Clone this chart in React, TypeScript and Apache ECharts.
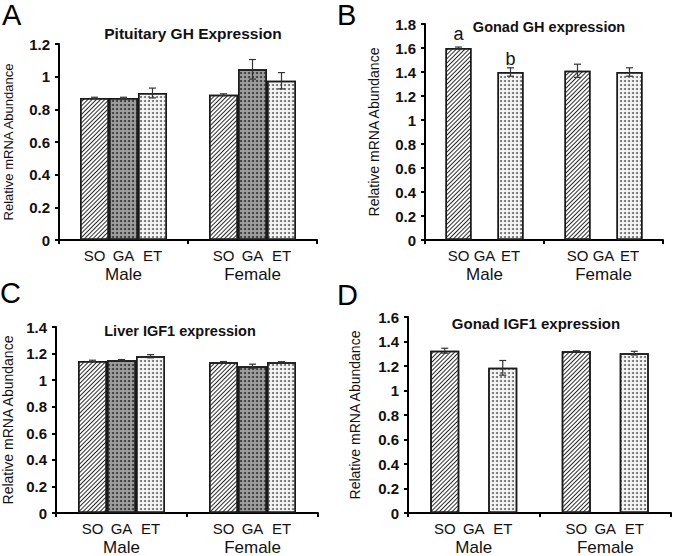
import React, { useEffect, useRef } from "react";
import * as echarts from "echarts";

const groups = ["Male", "Female"];
const subLabels = ["SO", "GA", "ET"];
const yTitle = "Relative mRNA Abundance";

// Panel A: Pituitary GH Expression
const aSO = [0.87, 0.89];
const aGA = [0.87, 1.045];
const aET = [0.9, 0.975];
const aSOErr = [0.004, 0.005];
const aGAErr = [0.004, 0.06];
const aETErr = [0.03, 0.05];

// Panel B: Gonad GH expression
const bSO = [1.6, 1.41];
const bET = [1.4, 1.4];
const bSOErr = [0.008, 0.055];
const bETErr = [0.035, 0.035];
const bLetters = ["a", "b"];

// Panel C: Liver IGF1 expression
const cSO = [1.145, 1.135];
const cGA = [1.15, 1.105];
const cET = [1.18, 1.135];
const cSOErr = [0.005, 0.005];
const cGAErr = [0.005, 0.015];
const cETErr = [0.012, 0.004];

// Panel D: Gonad IGF1 expression
const dSO = [1.325, 1.32];
const dET = [1.185, 1.305];
const dSOErr = [0.02, 0.005];
const dETErr = [0.06, 0.015];

const titles = ["Pituitary GH Expression", "Gonad GH expression", "Liver IGF1 expression", "Gonad IGF1 expression"];
const panelLetters = ["A", "B", "C", "D"];
const yMax = [1.2, 1.8, 1.4, 1.6];

const FONT = 'Arial, "Liberation Sans", Helvetica, sans-serif';

const grids = [
  { left: 59, top: 44, width: 258, height: 196 },
  { left: 425, top: 24, width: 238, height: 216 },
  { left: 55, top: 327, width: 263, height: 187 },
  { left: 408, top: 317, width: 263, height: 198 },
];
const barWidths = [29, 26, 29, 29];
const nameGaps = [44, 44, 41, 46];
const nameSizes = [13, 14, 14, 14];
const titlePos = [
  { x: 193, y: 25, size: 15.5 },
  { x: 549, y: 19, size: 14.5 },
  { x: 180, y: 323, size: 14.5 },
  { x: 536, y: 316, size: 15 },
];
const letterPos = [
  { x: 2, y: 0 },
  { x: 337, y: 0 },
  { x: 0, y: 278 },
  { x: 337, y: 280 },
];

const hatch = {
  symbol: "rect",
  symbolSize: 1,
  color: "#2a2a2a",
  dashArrayX: [1, 0],
  dashArrayY: [1, 2],
  rotation: -Math.PI / 4,
};
const darkDots = {
  symbol: "circle",
  symbolSize: 1,
  color: "#333",
  dashArrayX: [1.2, 1.3],
  dashArrayY: [1.2, 1.3],
  rotation: 0,
};
const lightDots = {
  symbol: "circle",
  symbolSize: 1,
  color: "#666",
  dashArrayX: [1.1, 1.6],
  dashArrayY: [1.1, 1.6],
  rotation: 0,
};

const styles = [
  { color: "#ffffff", decal: hatch },
  { color: "#9c9c9c", decal: darkDots },
  { color: "#f4f4f4", decal: lightDots },
];

export default function App() {
  const ref = useRef<HTMLDivElement>(null);
  useEffect(() => {
    if (!ref.current) return;
    const chart = echarts.init(ref.current, null, { renderer: "svg" });

    const panelSeries: (number | null)[][][] = [
      [aSO, aGA, aET],
      [bSO, [null, null], bET],
      [cSO, cGA, cET],
      [dSO, [null, null], dET],
    ];
    const panelErr: (number | null)[][][] = [
      [aSOErr, aGAErr, aETErr],
      [bSOErr, [null, null], bETErr],
      [cSOErr, cGAErr, cETErr],
      [dSOErr, [null, null], dETErr],
    ];

    const series: any[] = [];
    panelSeries.forEach((sArr, p) => {
      sArr.forEach((vals, s) => {
        const data = vals.map((v, i) => {
          if (v === null) return "-";
          if (p === 1 && s === 0 && i === 0) {
            return { value: v, label: { show: true, formatter: bLetters[0], distance: 5 } };
          }
          if (p === 1 && s === 2 && i === 0) {
            return { value: v, label: { show: true, formatter: bLetters[1], distance: 4 } };
          }
          return v;
        });
        series.push({
          type: "bar",
          name: subLabels[s],
          xAxisIndex: p,
          yAxisIndex: p,
          data,
          barWidth: barWidths[p],
          barGap: "0%",
          itemStyle: {
            color: styles[s].color,
            borderColor: "#1a1a1a",
            borderWidth: 1.5,
            decal: styles[s].decal,
          },
          label: {
            show: false,
            position: "top",
            fontSize: 18,
            fontFamily: FONT,
            color: "#111",
          },
          emphasis: { disabled: true },
        });
      });
      const errData: number[][] = [];
      sArr.forEach((vals, s) => {
        vals.forEach((v, i) => {
          const e = panelErr[p][s][i];
          if (v !== null && e !== null) errData.push([i, s, v, e]);
        });
      });
      const bw = barWidths[p];
      series.push({
        type: "custom",
        xAxisIndex: p,
        yAxisIndex: p,
        z: 5,
        data: errData,
        encode: { x: 0, y: 2 },
        renderItem: (params: any, api: any) => {
          const cat = api.value(0);
          const slot = api.value(1);
          const v = api.value(2);
          const e = api.value(3);
          const c = api.coord([cat, v]);
          const x = c[0] + (slot - 1) * bw;
          const hi = api.coord([cat, v + e])[1];
          const lo = api.coord([cat, v - e])[1];
          const st = { stroke: "#333", lineWidth: 1.2 };
          return {
            type: "group",
            children: [
              { type: "line", shape: { x1: x, y1: hi, x2: x, y2: lo }, style: st },
              { type: "line", shape: { x1: x - 3.5, y1: hi, x2: x + 3.5, y2: hi }, style: st },
              { type: "line", shape: { x1: x - 3.5, y1: lo, x2: x + 3.5, y2: lo }, style: st },
            ],
          };
        },
      });
    });

    const xAxis = grids.map((g, p) => ({
      type: "category",
      gridIndex: p,
      data: groups,
      axisLine: { lineStyle: { color: "#000", width: 2 } },
      axisTick: { show: true, length: 4, lineStyle: { color: "#000", width: 2 } },
      axisLabel: {
        interval: 0,
        hideOverlap: false,
        margin: 6,
        fontFamily: FONT,
        color: "#111",
        formatter: (v: string) => `{s|${subLabels[0]}}{s|${subLabels[1]}}{s|${subLabels[2]}}\n{m|${v}}`,
        rich: {
          s: { fontSize: 15, width: barWidths[p], align: "center", lineHeight: 18, fontFamily: FONT, color: "#111" },
          m: { fontSize: 17, lineHeight: 21, fontFamily: FONT, color: "#111" },
        },
      },
    }));

    const yAxis = grids.map((g, p) => ({
      type: "value",
      gridIndex: p,
      min: 0,
      max: yMax[p],
      interval: 0.2,
      name: yTitle,
      nameLocation: "middle",
      nameRotate: 90,
      nameGap: nameGaps[p],
      nameTextStyle: { fontSize: nameSizes[p], fontFamily: FONT, color: "#111" },
      splitLine: { show: false },
      axisLine: { show: true, lineStyle: { color: "#000", width: 2 } },
      axisTick: { show: true, length: 4, lineStyle: { color: "#000", width: 2 } },
      axisLabel: {
        margin: 9,
        fontSize: 15,
        fontWeight: "bold",
        fontFamily: FONT,
        color: "#111",
        formatter: (v: number) => String(Math.round(v * 10) / 10),
      },
    }));

    const title: any[] = [];
    titles.forEach((t, p) => {
      title.push({
        text: t,
        left: titlePos[p].x,
        top: titlePos[p].y,
        textAlign: "center",
        padding: 0,
        textStyle: { fontSize: titlePos[p].size, fontWeight: "bold", fontFamily: FONT, color: "#111" },
      });
    });
    panelLetters.forEach((t, p) => {
      title.push({
        text: t,
        left: letterPos[p].x,
        top: letterPos[p].y,
        padding: 0,
        textStyle: { fontSize: 29, fontWeight: "normal", fontFamily: FONT, color: "#000" },
      });
    });

    chart.setOption({
      animation: false,
      backgroundColor: "#fff",
      title,
      grid: grids,
      xAxis,
      yAxis,
      series,
    });
    return () => chart.dispose();
  }, []);
  return (
    <div
      ref={ref}
      style={{ position: "fixed", left: 0, top: 0, width: 676, height: 556 }}
    />
  );
}
